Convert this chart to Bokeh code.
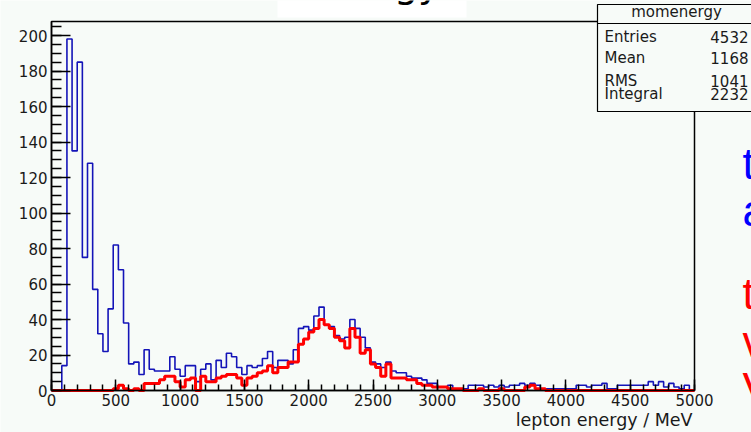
import numpy as np
from bokeh.plotting import figure
from bokeh.models import Range1d, Label, BoxAnnotation, SingleIntervalTicker, LinearAxis
from bokeh.embed import file_html
from bokeh.resources import INLINE

# 125 bins of 40 MeV between 0 and 5000 MeV
E_MIN, E_MAX, BIN_WIDTH = 0, 5000, 40

all_counts = [
    0, 0, 14, 198, 135, 185, 75, 128, 57, 32,
    22, 46, 82, 68, 38, 15, 16, 9, 23, 12,
    11, 11, 11, 19, 12, 8, 14, 14, 5, 12,
    15, 6, 17, 13, 21, 19, 13, 9, 14, 13,
    14, 18, 22, 13, 17, 17, 15, 23, 35, 36,
    34, 42, 47, 37, 36, 31, 29, 30, 40, 35,
    30, 24, 16, 15, 13, 16, 11, 10, 10, 8,
    7, 7, 6, 4, 4, 2, 2, 3, 1, 1,
    1, 3, 3, 3, 2, 3, 2, 3, 2, 3,
    3, 4, 3, 4, 3, 1, 1, 1, 1, 1,
    1, 1, 3, 3, 2, 3, 3, 4, 1, 1,
    3, 3, 3, 3, 3, 3, 5, 3, 5, 2,
    4, 2, 1, 3, 0,
]

selected_counts = [
    0, 0, 0, 0, 0, 0, 0, 0, 0, 0,
    0, 0, 1, 3, 1, 0, 1, 0, 4, 4,
    4, 6, 8, 8, 5, 2, 6, 7, 0, 8,
    5, 5, 7, 8, 9, 9, 7, 3, 7, 8,
    10, 11, 14, 10, 13, 13, 16, 16, 26, 29,
    33, 35, 40, 37, 35, 30, 28, 24, 35, 30,
    21, 23, 15, 13, 8, 15, 7, 7, 7, 6,
    6, 4, 3, 3, 2, 2, 2, 1, 1, 1,
    0, 0, 0, 1, 0, 0, 0, 1, 0, 0,
    0, 0, 2, 3, 1, 1, 0, 0, 0, 0,
    0, 0, 0, 0, 0, 0, 0, 0, 0, 0,
    0, 0, 0, 0, 0, 0, 0, 0, 0, 0,
    0, 0, 0, 0, 0,
]

stat_names = ["Entries", "Mean", "RMS", "Integral"]
stat_values = ["4532", "1168", "1041", "2232"]
hist_name = "momenergy"
x_title = "lepton energy / MeV"
title_text = "energy"
side_blue = ["t", "a"]
side_red = ["t", "v", "V"]

edges = np.arange(E_MIN, E_MAX + BIN_WIDTH, BIN_WIDTH)
y_top = 1.05 * max(all_counts)

W, H = 751, 432
FL, FR, FT, FB = 51, 694, 21, 390   # histogram frame edges in canvas pixels
BG = "#f7fbf8"
FONT = "DejaVu Sans"

# The drawing area covers the whole canvas; the ranges are widened so that
# the histogram frame lands at FL..FR / FT..FB, leaving room for the boxes and texts.
kx = (E_MAX - E_MIN) / (FR - FL)
ky = y_top / (FB - FT)
x_range = Range1d(E_MIN - FL * kx, E_MAX + (W - FR) * kx)
y_range = Range1d(0 - (H - FB) * ky, y_top + FT * ky)

p = figure(width=W, height=H, x_range=x_range, y_range=y_range,
           output_backend="svg", toolbar_location=None,
           x_axis_location=None, y_axis_location=None, min_border=0)
p.background_fill_color = BG
p.border_fill_color = BG
p.outline_line_color = None
p.xgrid.visible = False
p.ygrid.visible = False

xaxis = LinearAxis(ticker=SingleIntervalTicker(interval=500, num_minor_ticks=5),
                   fixed_location=0, bounds=(E_MIN, E_MAX))
yaxis = LinearAxis(ticker=SingleIntervalTicker(interval=20, num_minor_ticks=4),
                   fixed_location=E_MIN, bounds=(0, y_top))
for ax in (xaxis, yaxis):
    ax.axis_line_color = "black"
    ax.axis_line_width = 1.5
    ax.major_tick_line_color = "black"
    ax.minor_tick_line_color = "black"
    ax.major_tick_line_width = 1.5
    ax.minor_tick_line_width = 1.5
    ax.major_tick_out = 0
    ax.minor_tick_out = 0
    ax.major_label_text_font = FONT
    ax.major_label_text_font_size = "15px"
    ax.major_label_text_color = "#1a1a1a"
xaxis.major_tick_in = 11
xaxis.minor_tick_in = 6
yaxis.major_tick_in = 19
yaxis.minor_tick_in = 10
xaxis.major_label_standoff = 3
yaxis.major_label_standoff = 4
p.add_layout(xaxis, "below")
p.add_layout(yaxis, "left")

# histogram frame
p.add_layout(BoxAnnotation(left=E_MIN, right=E_MAX, bottom=0, top=y_top,
                           fill_color=None, line_color="black", line_width=1.5,
                           line_alpha=1.0, level="underlay"))

# histograms drawn as outlines
p.step(x=edges, y=np.append(all_counts, all_counts[-1]), mode="after",
       line_color="#1414b8", line_width=1.6)
p.step(x=edges, y=np.append(selected_counts, selected_counts[-1]), mode="after",
       line_color="#ff0000", line_width=3)


def sy(cy):
    return H - cy


def box(left, top, right, bottom, fill, line_color=None):
    p.add_layout(BoxAnnotation(
        left=left, right=right, top=sy(top), bottom=sy(bottom),
        left_units="screen", right_units="screen", top_units="screen", bottom_units="screen",
        fill_color=fill, fill_alpha=1.0,
        line_color=line_color, line_width=1.2, line_alpha=1.0 if line_color else 0.0,
        level="overlay"))


def label(cx, base, text, size, color="#1a1a1a", align="left", font=FONT):
    # base: wanted baseline in canvas pixels from the top
    px = float(size.rstrip("px"))
    p.add_layout(Label(x=cx, y=sy(base - 0.35 * px), x_units="screen", y_units="screen",
                       text=text, text_font=font, text_font_size=size,
                       text_color=color, text_align=align, text_baseline="alphabetic",
                       level="overlay"))


# title box at the top
box(277, -10, 466, 17, "white")
label(440, -3, title_text, "38px", color="black", align="right")

# statistics box
box(597, 4, 760, 23, BG, "black")
box(597, 23, 760, 111, BG, "black")
label(676, 17, hist_name, "15px", align="center")
stat_baselines = [41.5, 63, 85.5, 98.5]
for name, val, b in zip(stat_names, stat_values, stat_baselines):
    label(604, b, name, "15px")
    label(748, b, val, "15px", align="right")

# axis title
label(692, 426, x_title, "17.5px", align="right")

# side text
for t, b in zip(side_blue, [178, 225]):
    label(742, b, t, "44px", color="#0000ff", font="Liberation Sans")
for t, b in zip(side_red, [308, 356, 403]):
    label(742, b, t, "44px", color="#ff0000", font="Liberation Sans")

open("out.html", "w").write(file_html(p, INLINE))
